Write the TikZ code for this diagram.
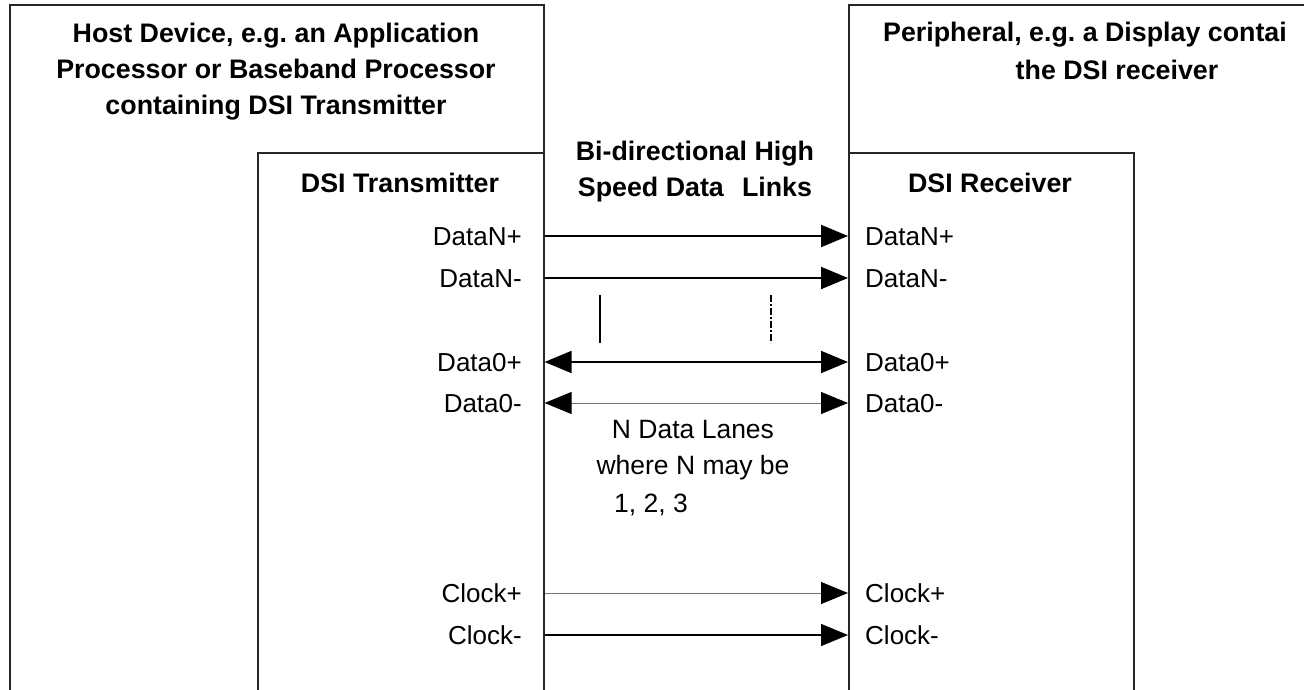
\documentclass[tikz,border=0pt]{standalone}
\usepackage{fontspec}
\setmainfont{Liberation Sans}
\usetikzlibrary{arrows.meta}
\frenchspacing
\begin{document}
\begin{tikzpicture}[x=1pt,y=-1pt,
  box/.style={draw=black!85, line width=1.6pt, anchor=north west, inner sep=0pt, minimum width=#1},
  hd/.style={font=\fontsize{26.8}{36}\selectfont\bfseries, align=center, inner sep=0pt},
  lbl/.style={font=\fontsize{26}{30}\selectfont, inner sep=0pt, text height=18.5pt, text depth=0pt},
  note/.style={font=\fontsize{26.5}{30}\selectfont, inner sep=0pt},
  uni/.style={-{Triangle[length=27pt,width=22pt,color=black]}},
  bi/.style={{Triangle[length=27pt,width=22pt,color=black]}-{Triangle[length=27pt,width=22pt,color=black]}},
  heavy/.style={line width=2pt, black},
  light/.style={line width=1pt, black!55},
  medium/.style={line width=1.4pt, black}
]
\useasboundingbox (0,0) rectangle (1304,690);
\clip (0,0) rectangle (1304,690);

% boxes (cut off at the bottom)
\node[box=534pt, minimum height=740pt] (host) at (9,4) {};
\node[box=286pt, minimum height=600pt] (tx) at (257,152) {};
\node[box=520pt, minimum height=740pt] (per) at (848,4) {};
\node[box=285pt, minimum height=600pt] (rx) at (848,152) {};

% headings
\node[hd] (hostt) at (276,72) {Host Device, e.g. an Application\\Processor or Baseband Processor\\containing DSI Transmitter};
\node[hd, anchor=base west] (pert1) at (883,42) {Peripheral, e.g. a Display contai};
\node[hd, anchor=base] (pert2) at (1117,80) {the DSI receiver};
\node[hd, anchor=base] (txt) at (400,192) {DSI Transmitter};
\node[hd, anchor=base] (rxt) at (990,192) {DSI Receiver};
\node[hd] (linkt) at (695,172) {Bi-directional High\\Speed Data\hspace{0.4em} Links};

% left labels
\node[lbl, anchor=east] (lNp) at (522,236) {DataN+};
\node[lbl, anchor=east] (lNm) at (522,278) {DataN-};
\node[lbl, anchor=east] (l0p) at (522,362) {Data0+};
\node[lbl, anchor=east] (l0m) at (522,403) {Data0-};
\node[lbl, anchor=east] (lCp) at (522,593) {Clock+};
\node[lbl, anchor=east] (lCm) at (522,635) {Clock-};
% right labels
\node[lbl, anchor=west] (rNp) at (865,236) {DataN+};
\node[lbl, anchor=west] (rNm) at (865,278) {DataN-};
\node[lbl, anchor=west] (r0p) at (865,362) {Data0+};
\node[lbl, anchor=west] (r0m) at (865,403) {Data0-};
\node[lbl, anchor=west] (rCp) at (865,593) {Clock+};
\node[lbl, anchor=west] (rCm) at (865,635) {Clock-};

% links
\draw[heavy, uni] (tx.east |- lNp) -- (rx.west |- rNp);
\draw[heavy, uni] (tx.east |- lNm) -- (rx.west |- rNm);
\draw[heavy, bi] (tx.east |- l0p) -- (rx.west |- r0p);
\draw[light, bi] (tx.east |- l0m) -- (rx.west |- r0m);
\draw[light, uni] (tx.east |- lCp) -- (rx.west |- rCp);
\draw[medium, uni] (tx.east |- lCm) -- (rx.west |- rCm);

% lane ellipsis marks
\draw[line width=1.6pt] (600,295) -- (600,343);
\draw[line width=1.6pt, dash pattern=on 7pt off 2pt on 2pt off 2pt] (771,295) -- (771,343);

% note
\node[note] (n1) at (693,430) {N Data Lanes};
\node[note] (n2) at (693,468) {where N may be};
\node[note] (n3) at (651,505) {1, 2, 3};
\end{tikzpicture}
\end{document}
